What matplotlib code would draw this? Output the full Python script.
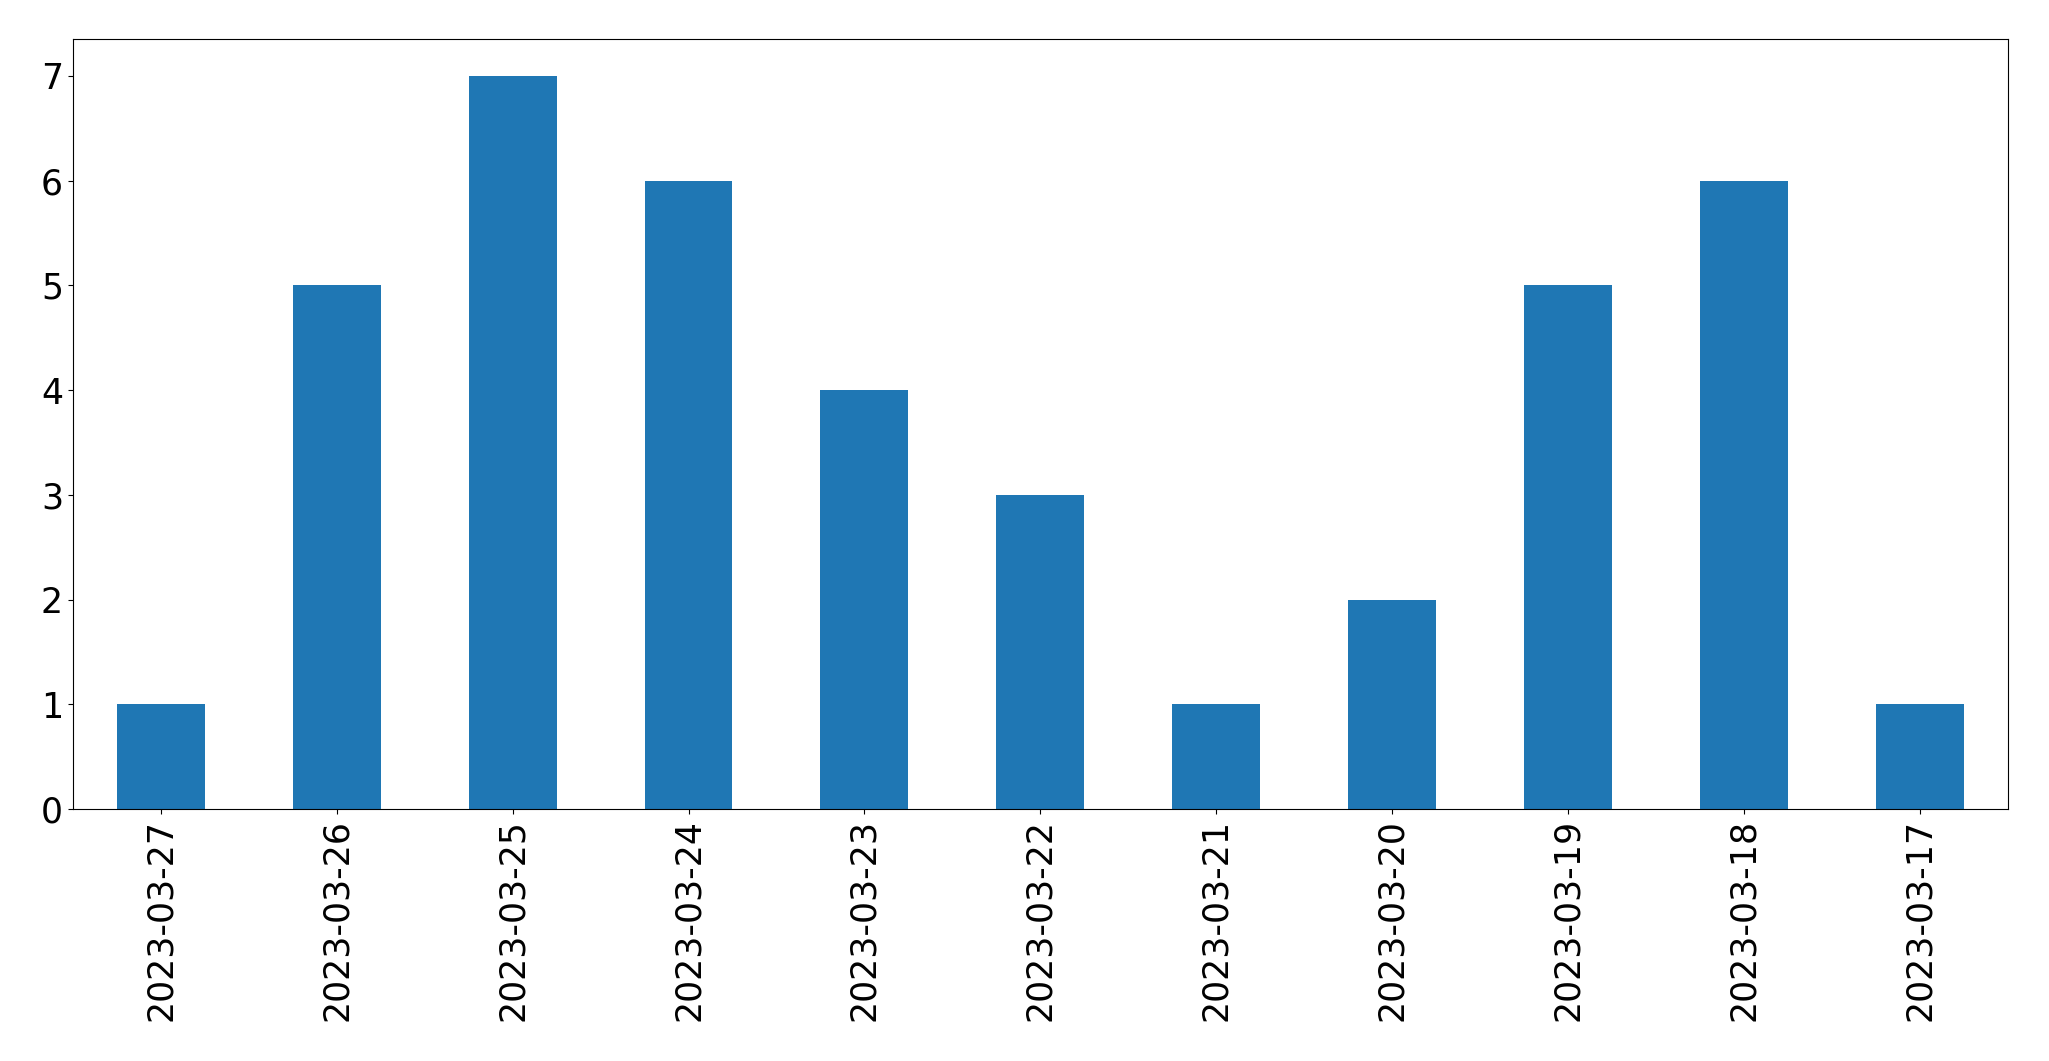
import matplotlib
matplotlib.use("Agg")
import matplotlib.pyplot as plt
import pandas as pd

dates = ["2023-03-27", "2023-03-26", "2023-03-25", "2023-03-24", "2023-03-23",
         "2023-03-22", "2023-03-21", "2023-03-20", "2023-03-19", "2023-03-18",
         "2023-03-17"]
counts = [1, 5, 7, 6, 4, 3, 1, 2, 5, 6, 1]

s = pd.Series(counts, index=dates)

fig = plt.figure(figsize=(20.49, 10.61), dpi=100)
ax = fig.add_axes([0.0355, 0.2375, 0.9445, 0.7255])
s.plot(kind="bar", ax=ax, color="#1f77b4", fontsize=25)
ax.tick_params(axis="both", labelsize=25)
fig.savefig("out.png", dpi=100)
